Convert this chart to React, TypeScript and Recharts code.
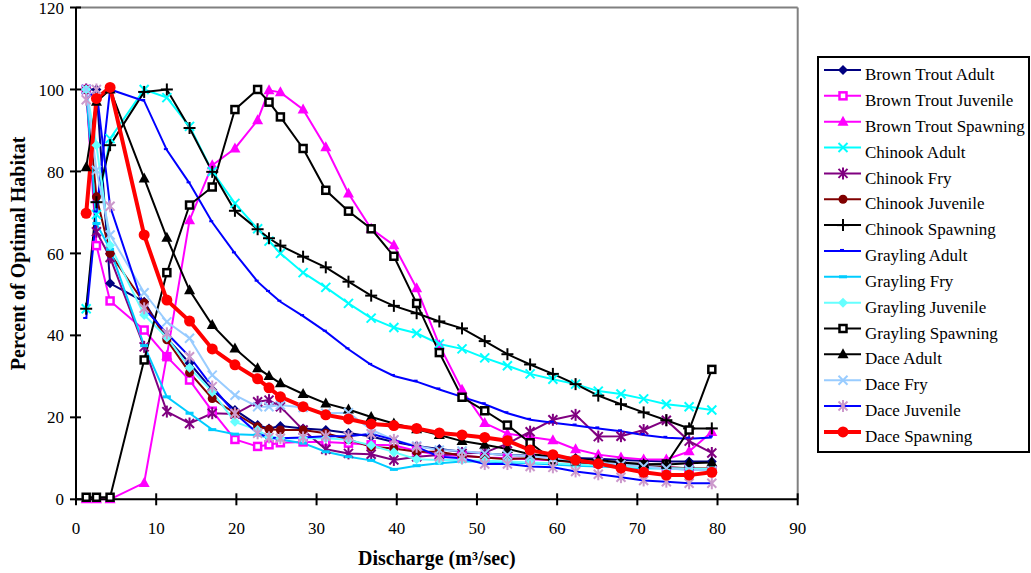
import React from 'react';
import { LineChart, Line, XAxis, YAxis, ReferenceLine } from 'recharts';

const discharge = [1.27, 2.55, 4.25, 8.5, 11.33, 14.16, 16.99, 19.82, 22.65, 24.07, 25.49, 28.32, 31.15, 33.98, 36.81, 39.64, 42.48, 45.31, 48.14, 50.97, 53.8, 56.63, 59.47, 62.3, 65.13, 67.96, 70.79, 73.62, 76.46, 79.29];

const brownTroutAdult = [100, 100, 52.7, 48.2, 39.3, 33.2, 26.7, 21.8, 18.1, 17.3, 17.9, 17.3, 16.9, 16.2, 15.3, 14.0, 13.0, 12.3, 11.6, 11.2, 10.8, 10.6, 10.4, 10.1, 9.9, 9.6, 9.4, 9.2, 9.2, 9.2];
const brownTroutJuvenile = [100, 61.9, 48.4, 41.3, 34.8, 29.1, 21.5, 14.6, 12.9, 13.3, 13.8, 14.0, 14.0, 13.7, 13.3, 13.2, 11.8, 10.8, 10.6, 10.2, 10.0, 9.8, 9.5, 9.2, 8.8, 8.4, 8.0, 7.8, 7.5, 7.2];
const brownTroutSpawning = [0, 0, 0, 4, 35, 68.1, 81.5, 85.6, 92.5, 99.8, 99.3, 95.1, 85.9, 74.6, 66, 62, 51.5, 37.6, 26.7, 18.6, 16, 15.2, 14.4, 12.2, 10.9, 10.2, 9.7, 9.7, 11.7, 16.4];
const chinookAdult = [46.5, 69.5, 88, 100, 98, 91, 80, 72.2, 66, 63, 60, 55.3, 51.7, 47.8, 44.2, 41.9, 40.5, 37.9, 36.7, 34.5, 32.6, 30.6, 29.3, 28.1, 26.4, 25.7, 24.5, 23.2, 22.6, 21.8];
const chinookFry = [100, 65.3, 59, 37.2, 21.4, 18.5, 21, 20.8, 23.8, 24.2, 22.6, 16.9, 12.2, 11.2, 11, 9.6, 10.4, 10.8, 11.2, 11.4, 13.6, 16.5, 19.4, 20.6, 15.3, 15.4, 16.9, 19.3, 14.2, 11.3];
const chinookJuvenile = [100, 73.8, 60, 47.9, 38.9, 30.9, 24.6, 21, 17.7, 17.1, 16.9, 16.9, 16.1, 14.6, 12.8, 12.4, 11.6, 11.6, 10.6, 10.2, 9.8, 10, 9.5, 9, 8.6, 8.3, 8, 7.8, 7.6, 7.5];
const chinookSpawning = [46.5, 72.5, 86.4, 99.4, 100, 90.6, 79.9, 70.4, 65.9, 63.7, 61.9, 59.2, 56.6, 53.1, 49.7, 47.2, 45.4, 43.4, 41.7, 38.6, 35.4, 32.9, 30.6, 28.1, 25.3, 23.2, 21.2, 19.3, 17.3, 17.3];
const graylingAdult = [44, 70, 100, 97.2, 85.2, 77.1, 67.6, 60, 53.1, 50.6, 48.2, 44.7, 40.9, 36.6, 32.8, 30.1, 28.7, 26.8, 25, 23.2, 21, 19.4, 18.7, 18, 17.3, 16.6, 15.7, 15, 14.8, 15.1];
const graylingFry = [100, 67.3, 61, 37.5, 25, 21, 17, 15.9, 15.7, 15, 14.6, 13.7, 11.6, 10.4, 9.5, 7.3, 8.2, 8.8, 9.2, 9.2, 9, 8.8, 8.5, 8.2, 8, 7.8, 7.6, 7.5, 7.3, 7.2];
const graylingJuvenile = [100, 86.4, 62, 45, 39.5, 32.1, 26.2, 18.9, 16.9, 15.3, 14.9, 14.9, 14.9, 14.5, 13.2, 11.5, 9.8, 9.6, 9.6, 9.4, 9.2, 9, 8.8, 8.5, 8.3, 8, 7.8, 7.6, 7.5, 7.4];
const graylingSpawning = [0.5, 0.5, 0.5, 34, 55.3, 71.8, 76.2, 95.1, 100, 96.9, 93.3, 85.6, 75.4, 70.3, 66, 59.3, 47.8, 35.8, 24.9, 21.6, 18.1, 13.8, 9.6, 9.4, 9.0, 8.7, 8.4, 8.6, 16.9, 31.7];
const daceAdult = [81, 97, 100, 78.3, 63.8, 51, 42.5, 36.8, 32, 30.1, 28.3, 25.7, 23.4, 21.9, 20.1, 18.5, 17.1, 15.7, 14.2, 13.3, 12.3, 11, 10.5, 9.7, 9.6, 9, 8.6, 8.5, 8.8, 9];
const daceFry = [100, 80.3, 64.5, 50.4, 43.3, 39.3, 30.3, 25.4, 22.6, 22.6, 23, 22.4, 21, 21.1, 17, 14.5, 13, 12, 11.8, 11.2, 10.8, 10.5, 10, 9.6, 9, 8.5, 8, 7.5, 7.2, 7];
const daceJuvenile = [97.5, 100, 71.5, 46.6, 40.5, 34.8, 27.5, 21, 16.1, 15.1, 14.9, 15.1, 15.4, 15.4, 16, 14.5, 12.8, 10.4, 10, 8.6, 8.6, 8, 7.8, 6.8, 6.1, 5.4, 4.6, 4.3, 3.9, 3.9];
const daceSpawning = [69.8, 97.8, 100.5, 64.5, 48.6, 43.5, 36.7, 32.8, 29.4, 27.2, 25, 22.6, 20.6, 19.6, 18.4, 18, 17.3, 16.2, 15.7, 15.1, 14.3, 12, 10.9, 9.6, 8.7, 7.6, 6.6, 5.9, 5.9, 6.6];

const xTicks = [0, 10, 20, 30, 40, 50, 60, 70, 80, 90];
const yTicks = [0, 20, 40, 60, 80, 100, 120];

type Shape = 'diamond' | 'hsquare' | 'triangle' | 'x' | 'asterisk' | 'circle' | 'plus' | 'smalldash' | 'dash';

interface SeriesDef { key: string; name: string; values: number[]; line: string; mark: string; shape: Shape; width: number; }

const series: SeriesDef[] = [
  { key: 'bta', name: 'Brown Trout Adult', values: brownTroutAdult, line: '#000080', mark: '#000080', shape: 'diamond', width: 2 },
  { key: 'btj', name: 'Brown Trout Juvenile', values: brownTroutJuvenile, line: '#FF00FF', mark: '#FF00FF', shape: 'hsquare', width: 2 },
  { key: 'bts', name: 'Brown Trout Spawning', values: brownTroutSpawning, line: '#FF00FF', mark: '#FF00FF', shape: 'triangle', width: 2 },
  { key: 'cha', name: 'Chinook Adult', values: chinookAdult, line: '#00FFFF', mark: '#00FFFF', shape: 'x', width: 2 },
  { key: 'chf', name: 'Chinook Fry', values: chinookFry, line: '#800080', mark: '#800080', shape: 'asterisk', width: 2 },
  { key: 'chj', name: 'Chinook Juvenile', values: chinookJuvenile, line: '#800000', mark: '#800000', shape: 'circle', width: 2 },
  { key: 'chs', name: 'Chinook Spawning', values: chinookSpawning, line: '#000000', mark: '#000000', shape: 'plus', width: 2 },
  { key: 'gra', name: 'Grayling Adult', values: graylingAdult, line: '#0000FF', mark: '#0000FF', shape: 'smalldash', width: 2 },
  { key: 'grf', name: 'Grayling Fry', values: graylingFry, line: '#00CCFF', mark: '#00CCFF', shape: 'dash', width: 2 },
  { key: 'grj', name: 'Grayling Juvenile', values: graylingJuvenile, line: '#66FFFF', mark: '#66FFFF', shape: 'diamond', width: 2 },
  { key: 'grs', name: 'Grayling Spawning', values: graylingSpawning, line: '#000000', mark: '#000000', shape: 'hsquare', width: 2 },
  { key: 'dca', name: 'Dace Adult', values: daceAdult, line: '#000000', mark: '#000000', shape: 'triangle', width: 2 },
  { key: 'dcf', name: 'Dace Fry', values: daceFry, line: '#99CCFF', mark: '#99CCFF', shape: 'x', width: 2 },
  { key: 'dcj', name: 'Dace Juvenile', values: daceJuvenile, line: '#0000FF', mark: '#CC99CC', shape: 'asterisk', width: 2 },
  { key: 'dcs', name: 'Dace Spawning', values: daceSpawning, line: '#FF0000', mark: '#FF0000', shape: 'circle', width: 4 },
];

const data = discharge.map((x, i) => {
  const row: Record<string, number> = { x };
  series.forEach((s) => { row[s.key] = s.values[i]; });
  return row;
});

const FONT = "'Liberation Serif', 'Times New Roman', serif";

function Marker({ shape, cx, cy, color, big }: { shape: Shape; cx: number; cy: number; color: string; big?: boolean }) {
  const s = big ? 5.5 : 4.5;
  switch (shape) {
    case 'diamond':
      return <polygon points={`${cx},${cy - 5} ${cx + 5},${cy} ${cx},${cy + 5} ${cx - 5},${cy}`} fill={color} />;
    case 'hsquare':
      return <rect x={cx - 3.5} y={cy - 3.5} width={7} height={7} fill="#fff" stroke={color} strokeWidth={2.5} />;
    case 'triangle':
      return <polygon points={`${cx},${cy - 6} ${cx + 5.5},${cy + 4} ${cx - 5.5},${cy + 4}`} fill={color} />;
    case 'x':
      return (
        <g stroke={color} strokeWidth={2}>
          <line x1={cx - s} y1={cy - s} x2={cx + s} y2={cy + s} />
          <line x1={cx - s} y1={cy + s} x2={cx + s} y2={cy - s} />
        </g>
      );
    case 'asterisk':
      return (
        <g stroke={color} strokeWidth={2}>
          <line x1={cx - s} y1={cy - s} x2={cx + s} y2={cy + s} />
          <line x1={cx - s} y1={cy + s} x2={cx + s} y2={cy - s} />
          <line x1={cx} y1={cy - 6} x2={cx} y2={cy + 6} />
        </g>
      );
    case 'circle':
      return <circle cx={cx} cy={cy} r={big ? 5.5 : 4.5} fill={color} />;
    case 'plus':
      return (
        <g stroke={color} strokeWidth={2}>
          <line x1={cx - 6} y1={cy} x2={cx + 6} y2={cy} />
          <line x1={cx} y1={cy - 6} x2={cx} y2={cy + 6} />
        </g>
      );
    case 'smalldash':
      return <rect x={cx - 3} y={cy - 2} width={4} height={2} fill={color} />;
    case 'dash':
    default:
      return <rect x={cx - 4} y={cy - 1.5} width={8} height={3} fill={color} />;
  }
}

const Y_MARGIN = 12;
const X_MARGIN = 22;

function YTick(props: any) {
  const { x, y, payload } = props;
  const ax = x + Y_MARGIN;
  return (
    <g>
      <line x1={ax - 6} x2={ax + 5} y1={y} y2={y} stroke="#000" strokeWidth={2} />
      <text x={x} y={y} dy="0.36em" textAnchor="end" fontFamily={FONT} fontSize={17} fill="#000">{payload.value}</text>
    </g>
  );
}

function XTick(props: any) {
  const { x, y, payload } = props;
  const ay = y - X_MARGIN;
  return (
    <g>
      <line x1={x} x2={x} y1={ay - 6} y2={ay + 6} stroke="#000" strokeWidth={2} />
      <text x={x} y={y} dy="0.72em" textAnchor="middle" fontFamily={FONT} fontSize={17} fill="#000">{payload.value}</text>
    </g>
  );
}

function LegendBox() {
  const rowH = 25.85;
  return (
    <div style={{ position: 'absolute', left: 817, top: 56, width: 209, height: 393, border: '2px solid #000', overflow: 'hidden', background: '#fff' }}>
      <svg width={209} height={393} style={{ display: 'block' }}>
        {series.map((s, i) => {
          const y = 12 + i * rowH;
          return (
            <g key={s.key}>
              <line x1={5} x2={42} y1={y} y2={y} stroke={s.line} strokeWidth={s.width === 4 ? 4 : 2} />
              <Marker shape={s.shape} cx={24} cy={y} color={s.mark} big={s.width === 4} />
              <text x={46} y={y + 4} dy="0.36em" fontFamily={FONT} fontSize={17} fill="#000">{s.name}</text>
            </g>
          );
        })}
      </svg>
    </div>
  );
}

export default function App() {
  return (
    <div style={{ position: 'absolute', left: 0, top: 0, width: 1031, height: 573, background: '#fff' }}>
      <LineChart width={1031} height={573} data={data} margin={{ top: 7.5, right: 233.3, bottom: 43.7, left: 16 }}>
        <XAxis
          dataKey="x"
          type="number"
          domain={[0, 90]}
          ticks={xTicks}
          interval={0}
          height={30}
          tickSize={0}
          tickMargin={X_MARGIN}
          tickLine={false}
          axisLine={{ stroke: '#000', strokeWidth: 2 }}
          tick={<XTick />}
          label={{ value: 'Discharge (m³/sec)', position: 'bottom', offset: 21, style: { fontFamily: FONT, fontSize: 20, fontWeight: 'bold', fill: '#000' } }}
        />
        <YAxis
          type="number"
          domain={[0, 120]}
          ticks={yTicks}
          interval={0}
          width={60}
          tickSize={0}
          tickMargin={Y_MARGIN}
          tickLine={false}
          axisLine={{ stroke: '#000', strokeWidth: 2 }}
          tick={<YTick />}
          label={{ value: 'Percent of Optimal Habitat', angle: -90, position: 'insideLeft', offset: 2, style: { textAnchor: 'middle', fontFamily: FONT, fontSize: 20, fontWeight: 'bold', fill: '#000' } }}
        />
        <ReferenceLine y={120} stroke="#808080" strokeWidth={2} />
        <ReferenceLine x={90} stroke="#808080" strokeWidth={2} />
        {series.map((s) => (
          <Line
            key={s.key}
            dataKey={s.key}
            name={s.name}
            type="linear"
            stroke={s.line}
            strokeWidth={s.width}
            isAnimationActive={false}
            dot={(p: any) => <Marker key={`${s.key}-${p.index}`} shape={s.shape} cx={p.cx} cy={p.cy} color={s.mark} big={s.width === 4} />}
            activeDot={false}
          />
        ))}
      </LineChart>
      <LegendBox />
    </div>
  );
}
